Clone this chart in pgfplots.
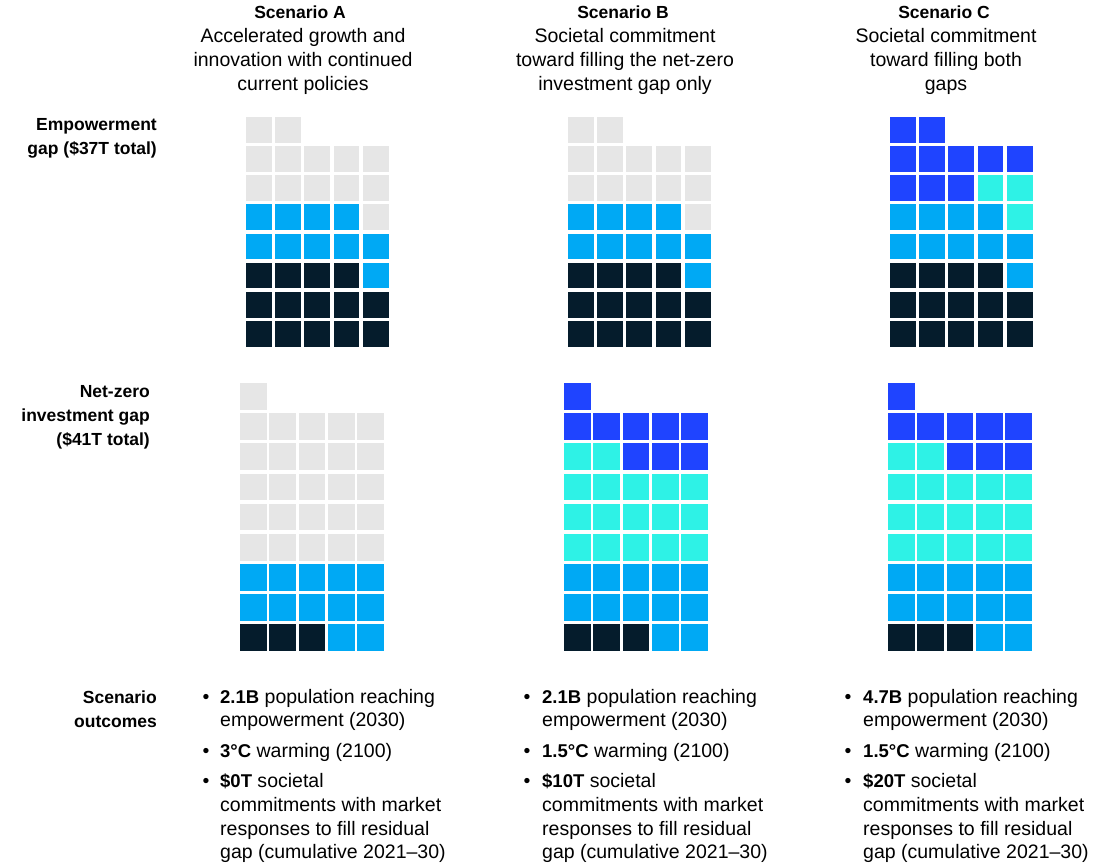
\documentclass[border=0pt]{standalone}
\usepackage{fontspec}
\setmainfont{Liberation Sans}
\usepackage{pgfplots}
\pgfplotsset{compat=1.18}
\definecolor{cgray}{HTML}{E6E6E6}
\definecolor{cblue}{HTML}{00A9F4}
\definecolor{cnavy}{HTML}{051C2C}
\definecolor{ccyan}{HTML}{2EF2E6}
\definecolor{croyal}{HTML}{1F44FF}
\pgfplotsset{
  waffle/.style={
    hide axis, clip=false, enlargelimits=false,
    xmin=0, xmax=4, ymin=0, anchor=south west,
    scatter/classes={
      n={mark=square*, draw=cnavy, fill=cnavy},
      b={mark=square*, draw=cblue, fill=cblue},
      c={mark=square*, draw=ccyan, fill=ccyan},
      r={mark=square*, draw=croyal, fill=croyal},
      g={mark=square*, draw=cgray, fill=cgray}},
  },
  emp/.style={waffle, ymax=7, x=29.2pt, y=29.15pt},
  nz/.style={waffle, ymax=8, x=29.25pt, y=30.1pt},
  wplot/.style={scatter, only marks, point meta=explicit symbolic, mark options={line width=0.2pt}},
}
\newcommand{\fs}{\fontsize{19.5}{24}\selectfont}
\newcommand{\hb}[1]{{\fontsize{17.5}{24}\selectfont\bfseries #1}}
\newcommand{\ib}[1]{{\fontsize{18.5}{24}\selectfont\bfseries #1}}
\begin{document}
\begin{tikzpicture}
\path[use as bounding box] (0pt,0pt) rectangle (1099pt,-866pt);
% ---------- Empowerment gap ----------
\begin{axis}[emp, at={(258.5pt,-333.5pt)}]
\addplot[wplot, mark size=12.4pt] coordinates {
(0,0)[n] (1,0)[n] (2,0)[n] (3,0)[n] (4,0)[n]
(0,1)[n] (1,1)[n] (2,1)[n] (3,1)[n] (4,1)[n]
(0,2)[n] (1,2)[n] (2,2)[n] (3,2)[n] (4,2)[b]
(0,3)[b] (1,3)[b] (2,3)[b] (3,3)[b] (4,3)[b]
(0,4)[b] (1,4)[b] (2,4)[b] (3,4)[b] (4,4)[g]
(0,5)[g] (1,5)[g] (2,5)[g] (3,5)[g] (4,5)[g]
(0,6)[g] (1,6)[g] (2,6)[g] (3,6)[g] (4,6)[g]
(0,7)[g] (1,7)[g]
};
\end{axis}
\begin{axis}[emp, at={(580.5pt,-333.5pt)}]
\addplot[wplot, mark size=12.4pt] coordinates {
(0,0)[n] (1,0)[n] (2,0)[n] (3,0)[n] (4,0)[n]
(0,1)[n] (1,1)[n] (2,1)[n] (3,1)[n] (4,1)[n]
(0,2)[n] (1,2)[n] (2,2)[n] (3,2)[n] (4,2)[b]
(0,3)[b] (1,3)[b] (2,3)[b] (3,3)[b] (4,3)[b]
(0,4)[b] (1,4)[b] (2,4)[b] (3,4)[b] (4,4)[g]
(0,5)[g] (1,5)[g] (2,5)[g] (3,5)[g] (4,5)[g]
(0,6)[g] (1,6)[g] (2,6)[g] (3,6)[g] (4,6)[g]
(0,7)[g] (1,7)[g]
};
\end{axis}
\begin{axis}[emp, at={(902.5pt,-333.5pt)}]
\addplot[wplot, mark size=12.4pt] coordinates {
(0,0)[n] (1,0)[n] (2,0)[n] (3,0)[n] (4,0)[n]
(0,1)[n] (1,1)[n] (2,1)[n] (3,1)[n] (4,1)[n]
(0,2)[n] (1,2)[n] (2,2)[n] (3,2)[n] (4,2)[b]
(0,3)[b] (1,3)[b] (2,3)[b] (3,3)[b] (4,3)[b]
(0,4)[b] (1,4)[b] (2,4)[b] (3,4)[b] (4,4)[c]
(0,5)[r] (1,5)[r] (2,5)[r] (3,5)[c] (4,5)[c]
(0,6)[r] (1,6)[r] (2,6)[r] (3,6)[r] (4,6)[r]
(0,7)[r] (1,7)[r]
};
\end{axis}
% ---------- Net-zero investment gap ----------
\begin{axis}[nz, at={(253pt,-637pt)}]
\addplot[wplot, mark size=12.9pt] coordinates {
(0,0)[n] (1,0)[n] (2,0)[n] (3,0)[b] (4,0)[b]
(0,1)[b] (1,1)[b] (2,1)[b] (3,1)[b] (4,1)[b]
(0,2)[b] (1,2)[b] (2,2)[b] (3,2)[b] (4,2)[b]
(0,3)[g] (1,3)[g] (2,3)[g] (3,3)[g] (4,3)[g]
(0,4)[g] (1,4)[g] (2,4)[g] (3,4)[g] (4,4)[g]
(0,5)[g] (1,5)[g] (2,5)[g] (3,5)[g] (4,5)[g]
(0,6)[g] (1,6)[g] (2,6)[g] (3,6)[g] (4,6)[g]
(0,7)[g] (1,7)[g] (2,7)[g] (3,7)[g] (4,7)[g]
(0,8)[g]
};
\end{axis}
\begin{axis}[nz, at={(577pt,-637pt)}]
\addplot[wplot, mark size=12.9pt] coordinates {
(0,0)[n] (1,0)[n] (2,0)[n] (3,0)[b] (4,0)[b]
(0,1)[b] (1,1)[b] (2,1)[b] (3,1)[b] (4,1)[b]
(0,2)[b] (1,2)[b] (2,2)[b] (3,2)[b] (4,2)[b]
(0,3)[c] (1,3)[c] (2,3)[c] (3,3)[c] (4,3)[c]
(0,4)[c] (1,4)[c] (2,4)[c] (3,4)[c] (4,4)[c]
(0,5)[c] (1,5)[c] (2,5)[c] (3,5)[c] (4,5)[c]
(0,6)[c] (1,6)[c] (2,6)[r] (3,6)[r] (4,6)[r]
(0,7)[r] (1,7)[r] (2,7)[r] (3,7)[r] (4,7)[r]
(0,8)[r]
};
\end{axis}
\begin{axis}[nz, at={(901pt,-637pt)}]
\addplot[wplot, mark size=12.9pt] coordinates {
(0,0)[n] (1,0)[n] (2,0)[n] (3,0)[b] (4,0)[b]
(0,1)[b] (1,1)[b] (2,1)[b] (3,1)[b] (4,1)[b]
(0,2)[b] (1,2)[b] (2,2)[b] (3,2)[b] (4,2)[b]
(0,3)[c] (1,3)[c] (2,3)[c] (3,3)[c] (4,3)[c]
(0,4)[c] (1,4)[c] (2,4)[c] (3,4)[c] (4,4)[c]
(0,5)[c] (1,5)[c] (2,5)[c] (3,5)[c] (4,5)[c]
(0,6)[c] (1,6)[c] (2,6)[r] (3,6)[r] (4,6)[r]
(0,7)[r] (1,7)[r] (2,7)[r] (3,7)[r] (4,7)[r]
(0,8)[r]
};
\end{axis}
% ---------- Texts ----------
\begin{scope}[every node/.style={inner sep=0pt, font=\fs, text=black}]
% headers
\node[anchor=base] at (300pt,-19pt) {\hb{Scenario A}};
\node[anchor=base] at (303pt,-43pt) {Accelerated growth and};
\node[anchor=base] at (303pt,-67pt) {innovation with continued};
\node[anchor=base] at (303pt,-91pt) {current policies};
\node[anchor=base] at (623pt,-19pt) {\hb{Scenario B}};
\node[anchor=base] at (625pt,-43pt) {Societal commitment};
\node[anchor=base] at (625pt,-67pt) {toward filling the net-zero};
\node[anchor=base] at (625pt,-91pt) {investment gap only};
\node[anchor=base] at (944pt,-19pt) {\hb{Scenario C}};
\node[anchor=base] at (946pt,-43pt) {Societal commitment};
\node[anchor=base] at (946pt,-67pt) {toward filling both};
\node[anchor=base] at (946pt,-91pt) {gaps};
% row labels
\node[anchor=base east] at (157pt,-131pt) {\hb{Empowerment}};
\node[anchor=base east] at (157pt,-155pt) {\hb{gap (\$37T total)}};
\node[anchor=base east] at (150pt,-397pt) {\hb{Net-zero}};
\node[anchor=base east] at (150pt,-421pt) {\hb{investment gap}};
\node[anchor=base east] at (150pt,-445pt) {\hb{(\$41T total)}};
\node[anchor=base east] at (157pt,-703pt) {\hb{Scenario}};
\node[anchor=base east] at (157pt,-727pt) {\hb{outcomes}};
% Scenario A
\node[anchor=base] at (206pt,-703pt) {\textbullet};
\node[anchor=base west] at (220pt,-703pt) {\ib{2.1B} population reaching};
\node[anchor=base west] at (220pt,-726pt) {empowerment (2030)};
\node[anchor=base] at (206pt,-757pt) {\textbullet};
\node[anchor=base west] at (220pt,-757pt) {\ib{3°C} warming (2100)};
\node[anchor=base] at (206pt,-787pt) {\textbullet};
\node[anchor=base west] at (220pt,-787pt) {\ib{\$0T} societal};
\node[anchor=base west] at (220pt,-811pt) {commitments with market};
\node[anchor=base west] at (220pt,-835pt) {responses to fill residual};
\node[anchor=base west] at (220pt,-858pt) {gap (cumulative 2021–30)};
% Scenario B
\node[anchor=base] at (527pt,-703pt) {\textbullet};
\node[anchor=base west] at (542pt,-703pt) {\ib{2.1B} population reaching};
\node[anchor=base west] at (542pt,-726pt) {empowerment (2030)};
\node[anchor=base] at (527pt,-757pt) {\textbullet};
\node[anchor=base west] at (542pt,-757pt) {\ib{1.5°C} warming (2100)};
\node[anchor=base] at (527pt,-787pt) {\textbullet};
\node[anchor=base west] at (542pt,-787pt) {\ib{\$10T} societal};
\node[anchor=base west] at (542pt,-811pt) {commitments with market};
\node[anchor=base west] at (542pt,-835pt) {responses to fill residual};
\node[anchor=base west] at (542pt,-858pt) {gap (cumulative 2021–30)};
% Scenario C
\node[anchor=base] at (848pt,-703pt) {\textbullet};
\node[anchor=base west] at (863pt,-703pt) {\ib{4.7B} population reaching};
\node[anchor=base west] at (863pt,-726pt) {empowerment (2030)};
\node[anchor=base] at (848pt,-757pt) {\textbullet};
\node[anchor=base west] at (863pt,-757pt) {\ib{1.5°C} warming (2100)};
\node[anchor=base] at (848pt,-787pt) {\textbullet};
\node[anchor=base west] at (863pt,-787pt) {\ib{\$20T} societal};
\node[anchor=base west] at (863pt,-811pt) {commitments with market};
\node[anchor=base west] at (863pt,-835pt) {responses to fill residual};
\node[anchor=base west] at (863pt,-858pt) {gap (cumulative 2021–30)};
\end{scope}
\end{tikzpicture}
\end{document}
